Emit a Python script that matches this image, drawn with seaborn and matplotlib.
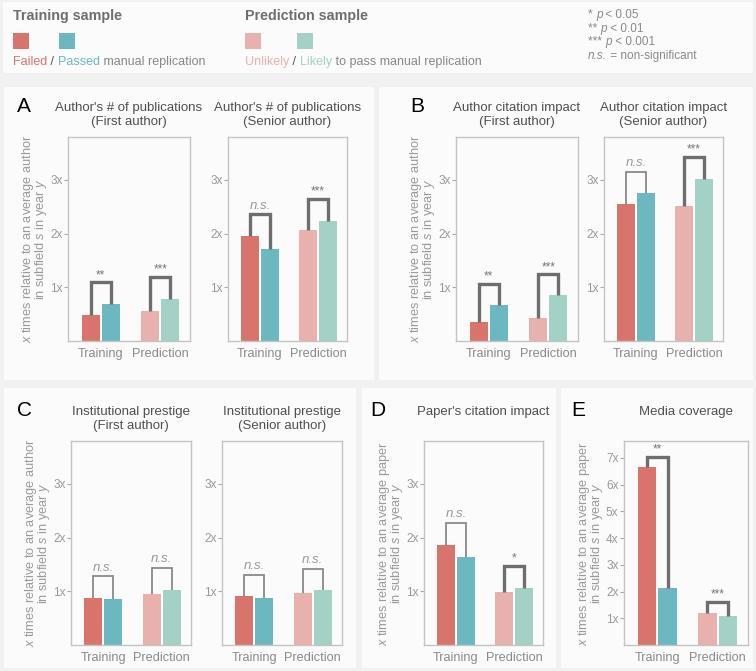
import numpy as np
import pandas as pd
import matplotlib
matplotlib.use('Agg')
import matplotlib.pyplot as plt
from matplotlib.patches import Rectangle
from matplotlib.text import Annotation
import seaborn as sns

############################ DATA ############################
titles = ["Author's # of publications\n(First author)", "Author's # of publications\n(Senior author)",
          "Author citation impact\n(First author)", "Author citation impact\n(Senior author)",
          "Institutional prestige\n(First author)", "Institutional prestige\n(Senior author)",
          "Paper's citation impact", "Media coverage"]
groups = ['Training', 'Prediction']
failed = [0.48, 1.95, 0.36, 2.56, 0.88, 0.91, 1.86, 6.64]
passed = [0.69, 1.72, 0.67, 2.76, 0.86, 0.88, 1.63, 2.12]
unlikely = [0.56, 2.07, 0.43, 2.52, 0.95, 0.965, 0.99, 1.21]
likely = [0.78, 2.24, 0.85, 3.02, 1.03, 1.03, 1.07, 1.07]
sig_train = ['**', 'n.s.', '**', 'n.s.', 'n.s.', 'n.s.', 'n.s.', '**']
sig_pred = ['***', '***', '***', '***', 'n.s.', 'n.s.', '*', '***']
bracket_train = [1.09, 2.36, 1.07, 3.15, 1.28, 1.31, 2.27, 7.04]
bracket_pred = [1.19, 2.64, 1.24, 3.43, 1.43, 1.42, 1.48, 1.61]
subject = ['author', None, 'author', None, 'author', None, 'paper', 'paper']
yticks_small = [1, 2, 3]
yticks_big = [1, 2, 3, 4, 5, 6, 7]

############################ STYLE ############################
sns.set_style('white')
plt.rcParams['font.family'] = ['Liberation Sans', 'DejaVu Sans']
plt.rcParams['mathtext.fontset'] = 'custom'
plt.rcParams['mathtext.it'] = 'Liberation Sans:italic'
plt.rcParams['mathtext.rm'] = 'Liberation Sans'
plt.rcParams['mathtext.bf'] = 'Liberation Sans:bold'

c_failed = '#d9746c'
c_passed = '#6bb8c0'
c_unlikely = '#e8b1ad'
c_likely = '#a3d1c5'
c_bg = '#f1f1f1'
c_panel = '#fbfbfb'

W, H = 756, 671
fig = plt.figure(figsize=(W / 100, H / 100), dpi=100, facecolor=c_bg)

def box(x0, y0, x1, y1):
    return [x0 / W, 1 - y1 / H, (x1 - x0) / W, (y1 - y0) / H]

# panel backgrounds
for (x0, y0, x1, y1) in [(3, 2, 753, 73), (4, 87, 374, 380), (379, 87, 753, 380),
                         (4, 388, 356, 668), (362, 388, 556, 668), (561, 388, 753, 668)]:
    b = box(x0, y0, x1, y1)
    fig.patches.append(Rectangle((b[0], b[1]), b[2], b[3], transform=fig.transFigure,
                                 facecolor=c_panel, edgecolor='none', zorder=-5))

# axes positions (pixels)
axes_px = [(68, 137, 190, 341), (228, 137, 347, 341), (456, 137, 578, 341), (604, 137, 723, 341),
           (71, 441, 191, 645), (222, 441, 342, 645), (424, 441, 543, 645), (624, 441, 748, 645)]

for i in range(8):
    ax = fig.add_axes(box(*axes_px[i]))
    ax.set_facecolor('none')
    df = pd.DataFrame({'sample': ['Training', 'Training', 'Prediction', 'Prediction'],
                       'outcome': ['neg', 'pos', 'neg', 'pos'],
                       'value': [failed[i], passed[i], unlikely[i], likely[i]]})
    sns.barplot(data=df, x='sample', y='value', hue='outcome', order=groups, hue_order=['neg', 'pos'],
                width=0.68, gap=0.1, saturation=1, linewidth=0, legend=False, ax=ax)
    neg, pos = ax.containers[0], ax.containers[1]
    neg[0].set_facecolor(c_failed); pos[0].set_facecolor(c_passed)
    neg[1].set_facecolor(c_unlikely); pos[1].set_facecolor(c_likely)

    # significance brackets
    for j, (h, s) in enumerate([(bracket_train[i], sig_train[i]), (bracket_pred[i], sig_pred[i])]):
        l, r = neg[j], pos[j]
        xl = l.get_x() + l.get_width() / 2
        xr = r.get_x() + r.get_width() / 2
        ns = s == 'n.s.' and i != 1
        ax.plot([xl, xl, xr, xr], [l.get_height(), h, h, r.get_height()],
                color='#8a8a8a' if ns else '#6e6e6e', lw=1.3 if ns else 2.4,
                solid_joinstyle='miter', solid_capstyle='butt', zorder=3, clip_on=False)
        if s == 'n.s.':
            ax.annotate(s, xy=((xl + xr) / 2, h), xytext=(0, 2), textcoords='offset points',
                        ha='center', va='bottom', fontsize=9.5, style='italic', color='#999999')
        else:
            ax.annotate(s, xy=((xl + xr) / 2, h), xytext=(0, 1), textcoords='offset points',
                        ha='center', va='bottom', fontsize=8.5, color='#777777')

    if i == 7:
        ax.set_ylim(0, 7.63)
        ax.set_yticks(yticks_big)
        ax.set_yticklabels([f'{t}x' for t in yticks_big])
    else:
        ax.set_ylim(0, 3.8)
        ax.set_yticks(yticks_small)
        ax.set_yticklabels([f'{t}x' for t in yticks_small])
    ax.set_xlim(-0.55, 1.5)
    ax.set_xlabel('')
    if subject[i]:
        ax.set_ylabel(f'$x$ times relative to an average {subject[i]}\nin subfield $s$ in year $y$',
                      fontsize=9.2, color='#9a9a9a', labelpad=1, linespacing=0.72)
    else:
        ax.set_ylabel('')
    ax.tick_params(axis='y', length=3, width=0.8, color='#aaaaaa', labelcolor='#999999',
                   labelsize=8.5, pad=1, left=True)
    ax.tick_params(axis='x', length=0, labelcolor='#8a8a8a', labelsize=9.2, pad=5)
    for sp in ax.spines.values():
        sp.set_visible(True)
        sp.set_color('#c4c4c4')
        sp.set_linewidth(1)
    ax.annotate(titles[i], xy=(0.5, 1), xycoords='axes fraction', xytext=(0, 25),
                textcoords='offset points', ha='center', va='top', fontsize=9.5,
                color='#4f4f4f', linespacing=1.15)

# panel letters
for letter, x, y in [('A', 17, 97), ('B', 410, 97), ('C', 17, 401), ('D', 370, 401), ('E', 571, 401)]:
    fig.text(x / W, 1 - y / H, letter, fontsize=15, color='black', ha='left', va='top')

############################ TOP LEGEND ############################
def chain(pieces, x, y, size):
    prev = fig.text(x / W, 1 - y / H, pieces[0][0], color=pieces[0][1], style=pieces[0][2],
                    fontsize=size, ha='left', va='bottom')
    for txt, col, st in pieces[1:]:
        prev = fig.add_artist(Annotation(txt, xy=(1, 0), xycoords=prev, ha='left', va='bottom',
                                         fontsize=size, color=col, style=st))

fig.text(13 / W, 1 - 9 / H, 'Training sample', fontsize=10.3, fontweight='bold', color='#6f6f6f', va='top')
fig.text(245 / W, 1 - 9 / H, 'Prediction sample', fontsize=10.3, fontweight='bold', color='#6f6f6f', va='top')
for x0, col in [(13, c_failed), (59, c_passed), (245, c_unlikely), (297, c_likely)]:
    b = box(x0, 33, x0 + 16, 49)
    fig.patches.append(Rectangle((b[0], b[1]), b[2], b[3], transform=fig.transFigure,
                                 facecolor=col, edgecolor='none'))
chain([('Failed', c_failed, 'normal'), (' / ', '#555555', 'normal'), ('Passed', c_passed, 'normal'),
       (' manual replication', '#888888', 'normal')], 13, 68, 9)
chain([('Unlikely', c_unlikely, 'normal'), (' / ', '#555555', 'normal'), ('Likely', c_likely, 'normal'),
       (' to pass manual replication', '#888888', 'normal')], 245, 68, 9)

key_stars = ['* ', '** ', '*** ']
key_vals = [' < 0.05', ' < 0.01', ' < 0.001']
for k in range(3):
    chain([(key_stars[k], '#8a8a8a', 'normal'), ('p', '#8a8a8a', 'italic'), (key_vals[k], '#8a8a8a', 'normal')],
          588, 21 + 13.7 * k, 8.5)
chain([('n.s.', '#8a8a8a', 'italic'), (' = non-significant', '#8a8a8a', 'normal')], 588, 21 + 13.7 * 3, 8.5)

fig.savefig('out.png', dpi=100, facecolor=c_bg)
